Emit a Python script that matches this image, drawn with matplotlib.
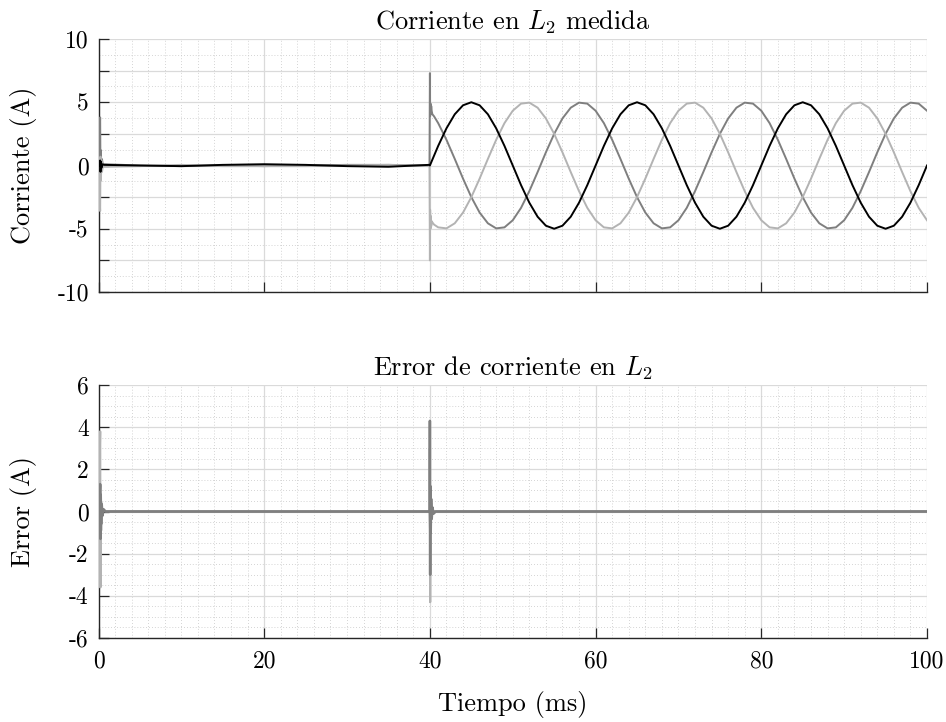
import numpy as np
import matplotlib
matplotlib.use("Agg")
import matplotlib.pyplot as plt
from matplotlib.ticker import MultipleLocator

plt.rcParams["font.family"] = ["cmr10"]
plt.rcParams["mathtext.fontset"] = "cm"
plt.rcParams["axes.unicode_minus"] = False
plt.rcParams["axes.formatter.use_mathtext"] = True

# ---------------- measured current in L2 (A), time in ms ----------------
# start-up segment (before the load is connected) and switching transient
T_PRE_A = [0, 0.2, 0.24, 0.29, 0.35, 0.45, 0.65, 5, 10, 15, 20, 25, 30, 35, 39.9, 40]
I_PRE_A = [0, 0.4, -0.5, 0.3, -0.2, 0.1, 0.05, 0.0, -0.05, 0.05, 0.1, 0.05, -0.05, -0.1, 0.05, 0.0]

T_PRE_B = [0, 0.2, 0.24, 0.29, 0.35, 0.42, 0.52, 0.75, 5, 10, 15, 20, 25, 30, 35, 39.95,
           40.0, 40.03, 40.07, 40.11, 40.16, 40.22, 40.3, 40.5]
I_PRE_B = [0, 3.8, -0.8, 1.2, -0.4, 0.5, 0.1, 0.1, 0.0, -0.05, 0.0, -0.05, 0.0, 0.05, 0.05, 0.0,
           7.3, 3.9, 4.9, 4.1, 4.7, 4.3, 4.05, 3.89]

T_PRE_C = [0, 0.2, 0.24, 0.29, 0.35, 0.42, 0.52, 0.75, 5, 10, 15, 20, 25, 30, 35, 39.95,
           40.0, 40.03, 40.07, 40.11, 40.16, 40.22, 40.3, 40.5]
I_PRE_C = [0, -3.6, 0.7, -1.2, 0.4, -0.5, -0.1, -0.1, -0.05, 0.05, -0.05, -0.05, -0.05, 0.0, 0.05, -0.05,
           -7.5, -3.5, -5.0, -4.0, -4.8, -4.4, -4.5, -4.67]

# steady-state samples, one per millisecond from 41 ms to 100 ms
T_SS = list(range(41, 101))
I_SS_A = [1.55, 2.94, 4.05, 4.76, 5.00, 4.76, 4.05, 2.94, 1.55, 0.00,
          -1.55, -2.94, -4.05, -4.76, -5.00, -4.76, -4.05, -2.94, -1.55, 0.00,
          1.55, 2.94, 4.05, 4.76, 5.00, 4.76, 4.05, 2.94, 1.55, 0.00,
          -1.55, -2.94, -4.05, -4.76, -5.00, -4.76, -4.05, -2.94, -1.55, 0.00,
          1.55, 2.94, 4.05, 4.76, 5.00, 4.76, 4.05, 2.94, 1.55, 0.00,
          -1.55, -2.94, -4.05, -4.76, -5.00, -4.76, -4.05, -2.94, -1.55, 0.00]
I_SS_B = [3.35, 2.03, 0.52, -1.04, -2.50, -3.72, -4.57, -4.97, -4.89, -4.33,
          -3.35, -2.03, -0.52, 1.04, 2.50, 3.72, 4.57, 4.97, 4.89, 4.33,
          3.35, 2.03, 0.52, -1.04, -2.50, -3.72, -4.57, -4.97, -4.89, -4.33,
          -3.35, -2.03, -0.52, 1.04, 2.50, 3.72, 4.57, 4.97, 4.89, 4.33,
          3.35, 2.03, 0.52, -1.04, -2.50, -3.72, -4.57, -4.97, -4.89, -4.33,
          -3.35, -2.03, -0.52, 1.04, 2.50, 3.72, 4.57, 4.97, 4.89, 4.33]
I_SS_C = [-4.89, -4.97, -4.57, -3.72, -2.50, -1.04, 0.52, 2.03, 3.35, 4.33,
          4.89, 4.97, 4.57, 3.72, 2.50, 1.04, -0.52, -2.03, -3.35, -4.33,
          -4.89, -4.97, -4.57, -3.72, -2.50, -1.04, 0.52, 2.03, 3.35, 4.33,
          4.89, 4.97, 4.57, 3.72, 2.50, 1.04, -0.52, -2.03, -3.35, -4.33,
          -4.89, -4.97, -4.57, -3.72, -2.50, -1.04, 0.52, 2.03, 3.35, 4.33,
          4.89, 4.97, 4.57, 3.72, 2.50, 1.04, -0.52, -2.03, -3.35, -4.33]

# ---------------- current tracking error in L2 (A) ----------------
T_ERR = [0, 0.2, 0.23, 0.27, 0.32, 0.39, 0.47, 0.62, 0.85, 39.98,
         40.0, 40.03, 40.06, 40.1, 40.15, 40.22, 40.3, 40.45, 40.7, 100]
E_A = [0, 0.6, -0.5, 0.3, -0.2, 0.1, -0.05, 0.0, 0, 0,
       -0.8, 0.7, -0.3, 0.2, -0.1, 0.05, 0.0, 0.0, 0, 0]
E_B = [0, 1.3, -1.3, 0.8, -0.6, 0.35, -0.2, 0.1, 0, 0,
       4.3, -3.0, 1.2, -1.0, 0.6, -0.35, 0.2, -0.1, 0, 0]
E_C = [0, 3.8, -3.6, 1.2, -0.9, 0.4, -0.2, 0.1, 0, 0,
       3.0, -4.3, 1.0, -0.8, 0.4, -0.2, 0.1, -0.05, 0, 0]

COL_A = "#000000"
COL_B = "#7f7f7f"
COL_C = "#b3b3b3"

W, H = 946, 722
fig = plt.figure(figsize=(W / 100, H / 100), dpi=100)
ax1 = fig.add_axes([98.5 / W, 1 - 292 / H, 828.5 / W, 253 / H])
ax2 = fig.add_axes([98.5 / W, 1 - 638 / H, 828.5 / W, 253 / H])


def style(ax):
    ax.set_axisbelow(True)
    ax.grid(which="major", color="#dadada", lw=0.9)
    ax.grid(which="minor", color="#c6c6c6", lw=0.6, ls=(0, (1, 2.5)))
    for s in ("top", "right"):
        ax.spines[s].set_visible(False)
    for s in ("left", "bottom"):
        ax.spines[s].set_color("#262626")
        ax.spines[s].set_linewidth(1.0)
    ax.tick_params(which="major", direction="in", length=7, width=0.9,
                   color="#262626", labelsize=17)
    ax.tick_params(axis="y", pad=7)
    ax.tick_params(axis="x", pad=9)
    ax.tick_params(which="minor", length=0)
    ax.xaxis.set_major_locator(MultipleLocator(20))
    ax.xaxis.set_minor_locator(MultipleLocator(2))
    ax.set_xlim(0, 100)


# top panel: measured current
style(ax1)
ax1.plot(T_PRE_B + T_SS, I_PRE_B + I_SS_B, color=COL_B, lw=1.4, zorder=3)
ax1.plot(T_PRE_C + T_SS, I_PRE_C + I_SS_C, color=COL_C, lw=1.4, zorder=3)
ax1.plot(T_PRE_A + T_SS, I_PRE_A + I_SS_A, color=COL_A, lw=1.4, zorder=3)
ax1.set_ylim(-10, 10)
yt = np.arange(-10, 10.01, 2.5)
ax1.set_yticks(yt)
ax1.set_yticklabels([f"{v:g}" if v % 5 == 0 else "" for v in yt])
ax1.yaxis.set_minor_locator(MultipleLocator(1.25))
ax1.tick_params(axis="x", labelbottom=False)
ax1.set_title("Corriente en $L_2$ medida", fontsize=19, pad=7)
ax1.set_ylabel("Corriente (A)", fontsize=19)
ax1.yaxis.set_label_coords(-0.074, 0.5)

# bottom panel: tracking error
style(ax2)
ax2.plot(T_ERR, E_A, color=COL_A, lw=1.3, zorder=3)
ax2.plot(T_ERR, E_C, color=COL_C, lw=1.6, zorder=3)
ax2.plot(T_ERR, E_B, color=COL_B, lw=1.8, zorder=3)
ax2.set_ylim(-6, 6)
ax2.set_yticks(np.arange(-6, 6.01, 2))
ax2.set_yticklabels([f"{v:g}" for v in np.arange(-6, 6.01, 2)])
ax2.yaxis.set_minor_locator(MultipleLocator(0.5))
ax2.set_xticks(np.arange(0, 101, 20))
ax2.set_xticklabels([f"{v:g}" for v in np.arange(0, 101, 20)])
ax2.set_title("Error de corriente en $L_2$", fontsize=19, pad=7)
ax2.set_ylabel("Error (A)", fontsize=19)
ax2.yaxis.set_label_coords(-0.074, 0.5)
ax2.set_xlabel("Tiempo (ms)", fontsize=19)
ax2.xaxis.set_label_coords(0.5, -0.21)

fig.savefig("out.png", dpi=100)
